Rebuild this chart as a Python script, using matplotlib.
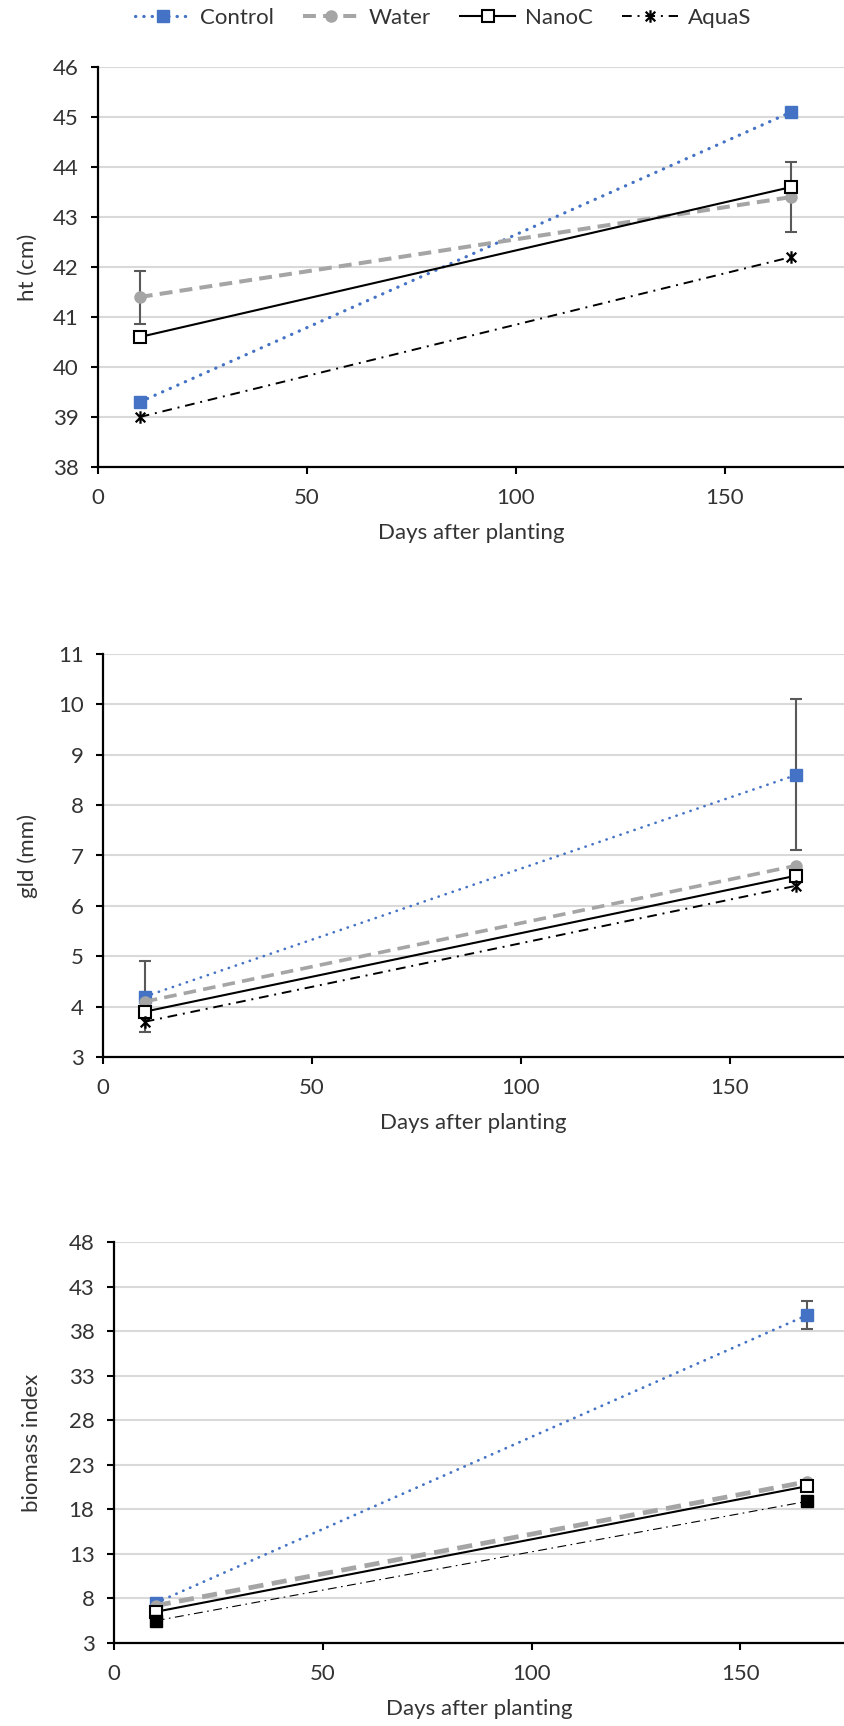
import matplotlib.pyplot as plt
import numpy as np
from matplotlib.path import Path

plt.rcParams['font.family'] = ['Lato', 'DejaVu Sans']

days = [10, 166]

ht_control = [39.3, 45.1]
ht_water = [41.4, 43.4]
ht_nanoc = [40.6, 43.6]
ht_aquas = [39.0, 42.2]
ht_water_err = [0.53, 0.7]

gld_control = [4.2, 8.6]
gld_water = [4.1, 6.8]
gld_nanoc = [3.9, 6.6]
gld_aquas = [3.7, 6.4]
gld_control_err = [0.7, 1.5]

bio_control = [7.5, 39.8]
bio_water = [7.2, 21.1]
bio_nanoc = [6.5, 20.6]
bio_aquas = [5.5, 18.9]
bio_control_err = [0.3, 1.6]

labels = ['Control', 'Water', 'NanoC', 'AquaS']

BLUE = '#4472C4'
GRAY = '#A5A5A5'
TXT = '#333333'
W, H = 844, 1726

# asterisk marker like excel's "star": an x with a vertical bar
star = Path([(-1, -1), (1, 1), (-1, 1), (1, -1), (0, -1.3), (0, 1.3)],
            [Path.MOVETO, Path.LINETO, Path.MOVETO, Path.LINETO, Path.MOVETO, Path.LINETO])

fig = plt.figure(figsize=(W / 100, H / 100), dpi=100)


def make_ax(left, top, bottom, xmax, ylim, step, ylabel, ylab_x):
    ax = fig.add_axes([left / W, 1 - bottom / H, (W - left) / W, (bottom - top) / H])
    ax.set_xlim(0, xmax)
    ax.set_ylim(*ylim)
    ax.set_xticks([0, 50, 100, 150])
    ax.set_yticks(np.arange(ylim[0], ylim[1] + 0.1, step))
    ax.grid(axis='y', color='#D9D9D9', lw=1.5, zorder=0)
    ax.set_axisbelow(True)
    for s in ['top', 'right']:
        ax.spines[s].set_visible(False)
    for s in ['left', 'bottom']:
        ax.spines[s].set_linewidth(1.6)
    ax.tick_params(direction='out', length=5, width=1.5, labelsize=16,
                   labelcolor=TXT, pad=9)
    ax.tick_params(axis='x', pad=10)
    ax.set_xlabel('Days after planting', fontsize=16, color=TXT, labelpad=11)
    ax.set_ylabel(ylabel, fontsize=16, color=TXT)
    ax.yaxis.set_label_coords((ylab_x - left) / (W - left), 0.5)
    return ax


# ---- height
ax1 = make_ax(98, 67, 467, 178.6, (38, 46), 1, 'ht (cm)', 38)
ax1.errorbar(days, ht_water, yerr=ht_water_err, fmt='none', ecolor='#595959',
             elinewidth=1.5, capsize=4.5, capthick=1.5, zorder=2)
ax1.plot(days, ht_control, color=BLUE, lw=2.3, ls=(0, (0.1, 2.5)), dash_capstyle='round',
         marker='s', ms=9, mfc=BLUE, mec=BLUE, label=labels[0], zorder=3)
ax1.plot(days, ht_water, color=GRAY, lw=2.9, ls=(0, (3.2, 1.8)),
         marker='o', ms=8, mfc=GRAY, mec=GRAY, label=labels[1], zorder=3)
ax1.plot(days, ht_nanoc, color='black', lw=1.5, marker='s', ms=8, mfc='white',
         mec='black', mew=1.5, label=labels[2], zorder=4)
ax1.plot(days, ht_aquas, color='black', lw=1.4, ls=(0, (5, 3, 1, 3)),
         marker=star, ms=9, mec='black', mew=1.6, label=labels[3], zorder=4)

# ---- gld
ax2 = make_ax(103, 654, 1057, 177.4, (3, 11), 1, 'gld (mm)', 38)
ax2.errorbar(days, gld_control, yerr=gld_control_err, fmt='none', ecolor='#595959',
             elinewidth=1.5, capsize=4.5, capthick=1.5, zorder=2)
ax2.plot(days, gld_control, color=BLUE, lw=1.9, ls=(0, (0.1, 2.7)), dash_capstyle='round',
         marker='s', ms=9, mfc=BLUE, mec=BLUE, zorder=3)
ax2.plot(days, gld_water, color=GRAY, lw=2.6, ls=(0, (3.5, 2)),
         marker='o', ms=8, mfc=GRAY, mec=GRAY, zorder=3)
ax2.plot(days, gld_nanoc, color='black', lw=1.5, marker='s', ms=8, mfc='white',
         mec='black', mew=1.5, zorder=4)
ax2.plot(days, gld_aquas, color='black', lw=1.4, ls=(0, (5, 3, 1, 3)),
         marker=star, ms=9, mec='black', mew=1.6, zorder=4)

# ---- biomass
ax3 = make_ax(114, 1242, 1643, 174.8, (3, 48), 5, 'biomass index', 42)
ax3.errorbar(days, bio_control, yerr=bio_control_err, fmt='none', ecolor='#595959',
             elinewidth=1.5, capsize=4.5, capthick=1.5, zorder=2)
ax3.plot(days, bio_control, color=BLUE, lw=2.0, ls=(0, (0.1, 2.6)), dash_capstyle='round',
         marker='s', ms=9, mfc=BLUE, mec=BLUE, zorder=3)
ax3.plot(days, bio_water, color=GRAY, lw=3.4, ls=(0, (3.2, 1.8)),
         marker='o', ms=8, mfc=GRAY, mec=GRAY, zorder=3)
ax3.plot(days, bio_nanoc, color='black', lw=1.5, marker='s', ms=8, mfc='white',
         mec='black', mew=1.5, zorder=4)
ax3.plot(days, bio_aquas, color='black', lw=0.8, ls=(0, (8, 4, 1.5, 4)),
         marker='s', ms=8, mfc='black', mec='black', zorder=4)

fig.legend(loc='center', bbox_to_anchor=(443 / W, 1 - 18 / H), ncol=4, frameon=False,
           fontsize=16, labelcolor=TXT, handlelength=2.5, handletextpad=0.45,
           columnspacing=1.3)

fig.savefig('out.png', dpi=100)
